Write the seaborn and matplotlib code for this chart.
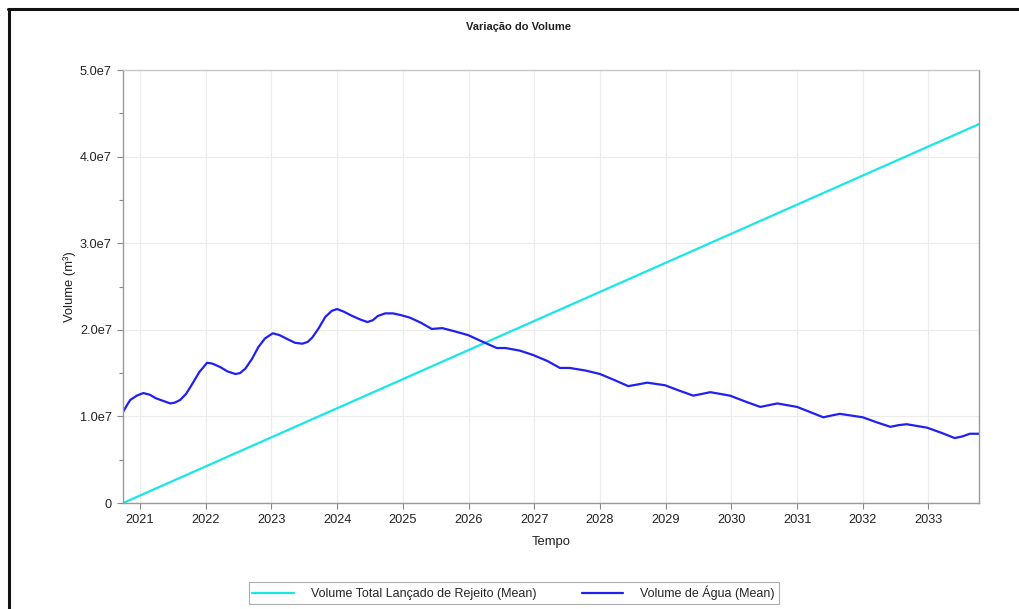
import matplotlib
matplotlib.use("Agg")
import matplotlib.pyplot as plt
from matplotlib.lines import Line2D
from matplotlib.ticker import FuncFormatter, MultipleLocator
import seaborn as sns
import pandas as pd

# Time axis in decimal years
rejeito_t = [2020.74, 2033.77]
rejeito_v = [0.0, 4.376e7]

agua_t = [2020.74, 2020.80, 2020.85, 2020.95, 2021.05, 2021.15, 2021.24, 2021.35,
          2021.46, 2021.53, 2021.61, 2021.70, 2021.79, 2021.90, 2022.02, 2022.10,
          2022.22, 2022.33, 2022.45, 2022.52, 2022.60, 2022.70, 2022.80, 2022.90,
          2023.02, 2023.12, 2023.25, 2023.36, 2023.47, 2023.55, 2023.62, 2023.72,
          2023.82, 2023.92, 2024.00, 2024.10, 2024.23, 2024.35, 2024.46, 2024.54,
          2024.62, 2024.73, 2024.85, 2024.97, 2025.11, 2025.28, 2025.44, 2025.60,
          2025.80, 2025.99, 2026.25, 2026.43, 2026.56, 2026.78, 2026.98, 2027.20,
          2027.39, 2027.54, 2027.78, 2028.00, 2028.22, 2028.43, 2028.58, 2028.72,
          2028.99, 2029.20, 2029.42, 2029.55, 2029.68, 2029.98, 2030.22, 2030.44,
          2030.57, 2030.70, 2031.00, 2031.20, 2031.40, 2031.52, 2031.65, 2032.00,
          2032.22, 2032.42, 2032.55, 2032.67, 2032.98, 2033.20, 2033.40, 2033.52,
          2033.63, 2033.77]
agua_v = [1.05e7, 1.13e7, 1.19e7, 1.24e7, 1.27e7, 1.25e7, 1.21e7, 1.18e7,
          1.15e7, 1.16e7, 1.19e7, 1.26e7, 1.37e7, 1.51e7, 1.62e7, 1.61e7,
          1.57e7, 1.52e7, 1.49e7, 1.50e7, 1.55e7, 1.66e7, 1.80e7, 1.90e7,
          1.96e7, 1.94e7, 1.89e7, 1.85e7, 1.84e7, 1.86e7, 1.91e7, 2.02e7,
          2.15e7, 2.22e7, 2.24e7, 2.21e7, 2.16e7, 2.12e7, 2.09e7, 2.11e7,
          2.16e7, 2.19e7, 2.19e7, 2.17e7, 2.14e7, 2.08e7, 2.01e7, 2.02e7,
          1.98e7, 1.94e7, 1.85e7, 1.79e7, 1.79e7, 1.76e7, 1.71e7, 1.64e7,
          1.56e7, 1.56e7, 1.53e7, 1.49e7, 1.42e7, 1.35e7, 1.37e7, 1.39e7,
          1.36e7, 1.30e7, 1.24e7, 1.26e7, 1.28e7, 1.24e7, 1.17e7, 1.11e7,
          1.13e7, 1.15e7, 1.11e7, 1.05e7, 0.99e7, 1.01e7, 1.03e7, 0.99e7,
          0.93e7, 0.88e7, 0.90e7, 0.91e7, 0.87e7, 0.81e7, 0.75e7, 0.77e7,
          0.80e7, 0.80e7]

year_ticks = list(range(2021, 2034))
y_ticks = [0, 1e7, 2e7, 3e7, 4e7, 5e7]

label_rejeito = "Volume Total Lançado de Rejeito (Mean)"
label_agua = "Volume de Água (Mean)"

sns.set_theme(style="white")
plt.rcParams["font.family"] = ["Liberation Sans", "DejaVu Sans"]

df = pd.concat([
    pd.DataFrame({"Tempo": rejeito_t, "Volume": rejeito_v, "Série": label_rejeito}),
    pd.DataFrame({"Tempo": agua_t, "Volume": agua_v, "Série": label_agua}),
])

fig = plt.figure(figsize=(10.19, 6.09), dpi=100)
ax = fig.add_axes([0.1207, 0.174, 0.8401, 0.711])

sns.lineplot(data=df, x="Tempo", y="Volume", hue="Série",
             palette={label_rejeito: "#19e6e6", label_agua: "#2020f0"},
             linewidth=1.6, ax=ax, legend=False, sort=False)

ax.set_xlim(2020.74, 2033.77)
ax.set_ylim(0, 5e7)
ax.set_xticks(year_ticks)
ax.set_xticklabels([str(y) for y in year_ticks])
ax.set_yticks(y_ticks)
ax.yaxis.set_major_formatter(FuncFormatter(lambda v, p: "0" if v == 0 else f"{v/1e7:.1f}e7"))
ax.yaxis.set_minor_locator(MultipleLocator(0.5e7))

ax.grid(True, which="major", color="#ececec", linewidth=0.8)
ax.tick_params(axis="both", which="major", direction="out", length=4, width=0.8,
               color="#888888", labelsize=9.2, labelcolor="#222222", pad=4, left=True, bottom=True)
ax.tick_params(axis="y", which="minor", direction="out", length=3, width=0.8,
               color="#888888", left=True)

for side in ["left", "bottom", "right"]:
    ax.spines[side].set_color("#999999")
    ax.spines[side].set_linewidth(1.0)
ax.spines["top"].set_color("#c8c8c8")
ax.spines["top"].set_linewidth(1.0)

ax.set_xlabel("Tempo", fontsize=9.4, color="#222222", labelpad=7)
ax.set_ylabel("Volume (m³)", fontsize=9.4, color="#222222", labelpad=3)

fig.text(0.509, 0.955, "Variação do Volume", ha="center", va="center",
         fontsize=8, fontweight="bold", color="#222222")

handles = [Line2D([], [], color="#19e6e6", linewidth=1.6),
           Line2D([], [], color="#2020f0", linewidth=1.6)]
leg = fig.legend(handles, [label_rejeito, label_agua], loc="lower center",
                 bbox_to_anchor=(0.504, 0.0), ncol=2, fontsize=9.0, frameon=True,
                 fancybox=False, edgecolor="#999999", handlelength=3.3,
                 columnspacing=3.6, handletextpad=1.4, borderpad=0.3,
                 borderaxespad=0.4)
leg.get_frame().set_linewidth(0.8)

# Window frame: left and top edges
fig.add_artist(Line2D([0.0088, 0.0088], [0.0, 0.986], color="#111111", linewidth=2.2,
                      transform=fig.transFigure))
fig.add_artist(Line2D([0.0078, 1.0], [0.986, 0.986], color="#111111", linewidth=2.2,
                      transform=fig.transFigure))

fig.savefig("out.png", dpi=100, facecolor="white")
